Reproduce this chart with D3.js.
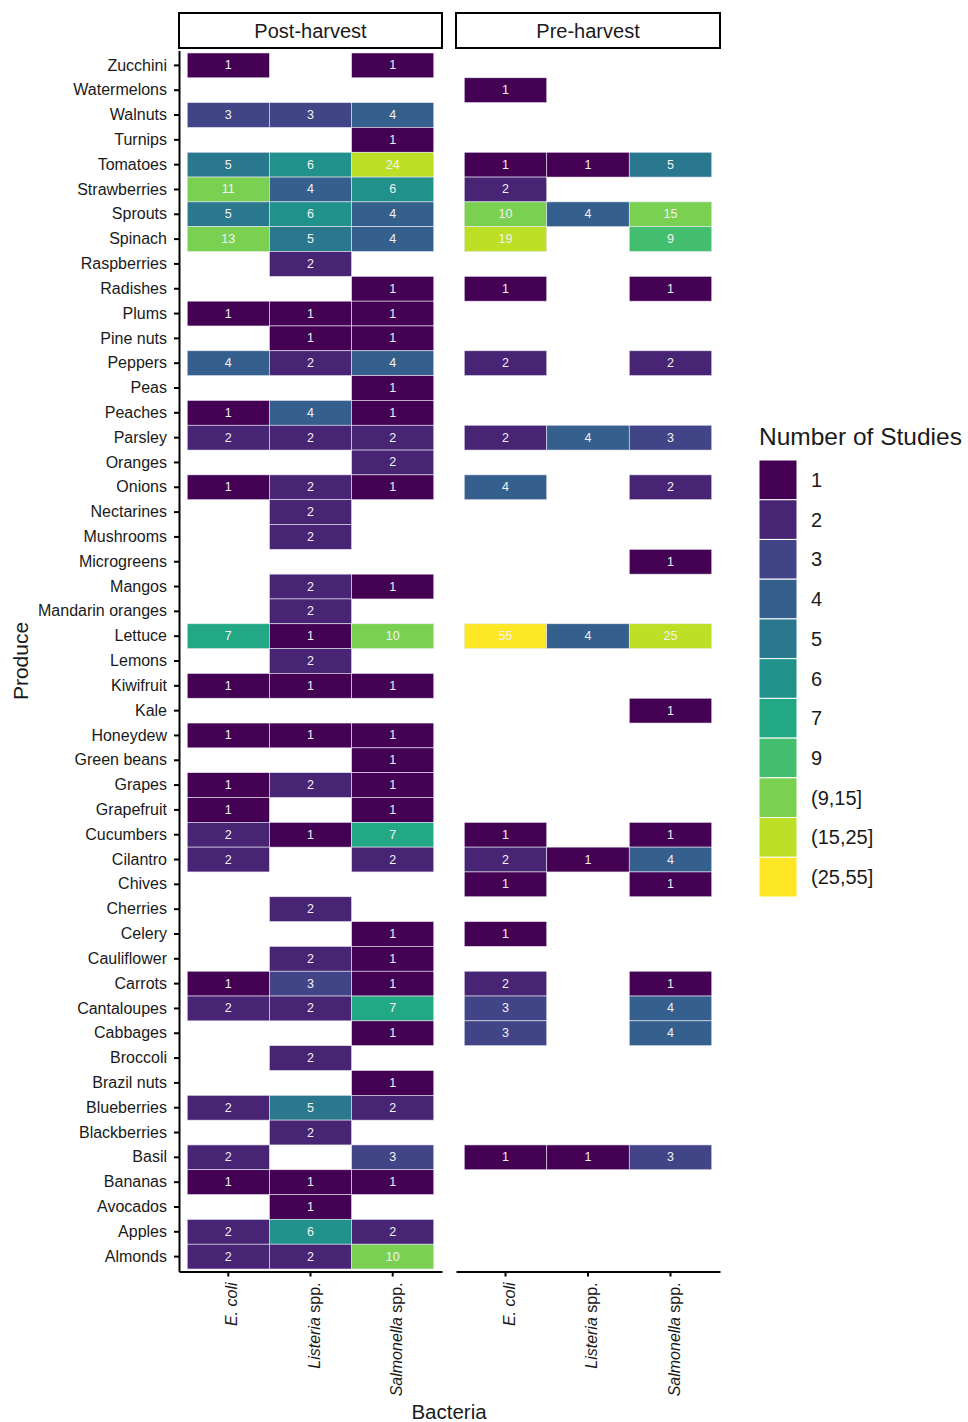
<!DOCTYPE html>
<html><head><meta charset="utf-8">
<script src="https://cdn.jsdelivr.net/npm/d3@7"></script>
<style>body{margin:0;background:#fff}svg{display:block;font-family:"Liberation Sans",Arial,sans-serif}</style>
</head><body><svg id="c" width="968" height="1422"></svg>
<script>
const produce = ["Zucchini","Watermelons","Walnuts","Turnips","Tomatoes","Strawberries","Sprouts","Spinach","Raspberries","Radishes","Plums","Pine nuts","Peppers","Peas","Peaches","Parsley","Oranges","Onions","Nectarines","Mushrooms","Microgreens","Mangos","Mandarin oranges","Lettuce","Lemons","Kiwifruit","Kale","Honeydew","Green beans","Grapes","Grapefruit","Cucumbers","Cilantro","Chives","Cherries","Celery","Cauliflower","Carrots","Cantaloupes","Cabbages","Broccoli","Brazil nuts","Blueberries","Blackberries","Basil","Bananas","Avocados","Apples","Almonds"];
const bacteria = ["E. coli","Listeria spp.","Salmonella spp."];
const stages = ["Post-harvest","Pre-harvest"];
// values aligned with produce; null = no studies
const postEcoli      = [1,null,3,null,5,11,5,13,null,null,1,null,4,null,1,2,null,1,null,null,null,null,null,7,null,1,null,1,null,1,1,2,2,null,null,null,null,1,2,null,null,null,2,null,2,1,null,2,2];
const postListeria   = [null,null,3,null,6,4,6,5,2,null,1,1,2,null,4,2,null,2,2,2,null,2,2,1,2,1,null,1,null,2,null,1,null,null,2,null,2,3,2,null,2,null,5,2,null,1,1,6,2];
const postSalmonella = [1,null,4,1,24,6,4,4,null,1,1,1,4,1,1,2,2,1,null,null,null,1,null,10,null,1,null,1,1,1,1,7,2,null,null,1,1,1,7,1,null,1,2,null,3,1,null,2,10];
const preEcoli       = [null,1,null,null,1,2,10,19,null,1,null,null,2,null,null,2,null,4,null,null,null,null,null,55,null,null,null,null,null,null,null,1,2,1,null,1,null,2,3,3,null,null,null,null,1,null,null,null,null];
const preListeria    = [null,null,null,null,1,null,4,null,null,null,null,null,null,null,null,4,null,null,null,null,null,null,null,4,null,null,null,null,null,null,null,null,1,null,null,null,null,null,null,null,null,null,null,null,1,null,null,null,null];
const preSalmonella  = [null,null,null,null,5,null,15,9,null,1,null,null,2,null,null,3,null,2,null,null,1,null,null,25,null,null,1,null,null,null,null,1,4,1,null,null,null,1,4,4,null,null,null,null,3,null,null,null,null];
const legendLabels = ["1","2","3","4","5","6","7","9","(9,15]","(15,25]","(25,55]"];

const seriesByStage = [[postEcoli,postListeria,postSalmonella],[preEcoli,preListeria,preSalmonella]];
function binOf(v){
  if (v<=7) return String(v);
  if (v<=9) return "9";
  if (v<=15) return "(9,15]";
  if (v<=25) return "(15,25]";
  return "(25,55]";
}
const color = d3.scaleOrdinal().domain(legendLabels)
  .range(legendLabels.map((d,i)=>d3.interpolateViridis(i/(legendLabels.length-1))));

const svg = d3.select("#c");
const panelTop = 50.5, panelBottom = 1271.5;
const panelX = [[179,442],[456,720]];
const y = d3.scaleBand().domain(produce).range([panelTop,panelBottom]).paddingInner(0).paddingOuter(0.1);
const txtCol = "#1a1a1a";

stages.forEach((stage,si)=>{
  const x = d3.scaleBand().domain(bacteria).range(panelX[si]).paddingInner(0).paddingOuter(0.1);
  const g = svg.append("g");
  const cells = [];
  seriesByStage[si].forEach((arr,bi)=>arr.forEach((v,pi)=>{ if(v!=null) cells.push({p:produce[pi],b:bacteria[bi],v}); }));
  g.selectAll("rect.cell").data(cells).join("rect").attr("class","cell")
    .attr("x",d=>x(d.b)).attr("y",d=>y(d.p)).attr("width",x.bandwidth()).attr("height",y.bandwidth())
    .attr("fill",d=>color(binOf(d.v))).attr("stroke","#e8e8f0").attr("stroke-width",0.6);
  g.selectAll("text.cell").data(cells).join("text").attr("class","cell")
    .attr("x",d=>x(d.b)+x.bandwidth()/2).attr("y",d=>y(d.p)+y.bandwidth()/2)
    .attr("text-anchor","middle").attr("dominant-baseline","central")
    .attr("fill","#f2f2f2").attr("font-size",12.5).text(d=>d.v);
  // strip
  svg.append("rect").attr("x",panelX[si][0]).attr("y",13).attr("width",panelX[si][1]-panelX[si][0]).attr("height",35)
    .attr("fill","#fff").attr("stroke","#000").attr("stroke-width",2);
  svg.append("text").attr("x",(panelX[si][0]+panelX[si][1])/2).attr("y",31).attr("text-anchor","middle")
    .attr("dominant-baseline","central").attr("font-size",20).attr("fill",txtCol).text(stage);
  // x axis
  const xa = svg.append("g").attr("transform",`translate(0,${panelBottom})`).call(d3.axisBottom(x).tickSize(5).tickSizeOuter(0).tickFormat(""));
  xa.select(".domain").attr("stroke","#000").attr("stroke-width",2);
  xa.selectAll(".tick line").attr("stroke","#000").attr("stroke-width",2);
  xa.selectAll(".tick").each(function(b){
    const parts = b.split(" ");
    const t = d3.select(this).append("text").attr("transform","translate(3,11) rotate(-90)")
      .attr("text-anchor","end").attr("dominant-baseline","central").attr("fill",txtCol).attr("font-size",16);
    if (b==="E. coli") t.append("tspan").attr("font-style","italic").text("E. coli");
    else { t.append("tspan").attr("font-style","italic").text(parts[0]); t.append("tspan").text(" "+parts[1]); }
  });
});

// y axis
const ya = svg.append("g").attr("transform",`translate(${panelX[0][0]},0)`).call(d3.axisLeft(y).tickSize(5).tickSizeOuter(0).tickPadding(7));
ya.select(".domain").attr("stroke","#000").attr("stroke-width",2);
ya.selectAll(".tick line").attr("stroke","#000").attr("stroke-width",2);
ya.selectAll(".tick text").attr("font-size",16).attr("fill",txtCol).attr("font-family","Liberation Sans, Arial, sans-serif");

// axis titles
svg.append("text").attr("transform","translate(20,661) rotate(-90)").attr("text-anchor","middle")
  .attr("dominant-baseline","central").attr("font-size",21).attr("fill",txtCol).text("Produce");
svg.append("text").attr("x",449).attr("y",1419).attr("text-anchor","middle").attr("font-size",20.5).attr("fill",txtCol).text("Bacteria");

// legend
const lg = svg.append("g");
lg.append("text").attr("x",759).attr("y",445).attr("font-size",24.5).attr("fill",txtCol).text("Number of Studies");
const ly = d3.scaleBand().domain(legendLabels).range([460,897]);
lg.selectAll("rect").data(legendLabels).join("rect").attr("x",759).attr("y",d=>ly(d)).attr("width",38).attr("height",ly.bandwidth())
  .attr("fill",d=>color(d)).attr("stroke","#fff").attr("stroke-width",1);
lg.selectAll("text.lab").data(legendLabels).join("text").attr("class","lab").attr("x",811).attr("y",d=>ly(d)+ly.bandwidth()/2)
  .attr("dominant-baseline","central").attr("font-size",20).attr("fill",txtCol).text(d=>d);
</script></body></html>
